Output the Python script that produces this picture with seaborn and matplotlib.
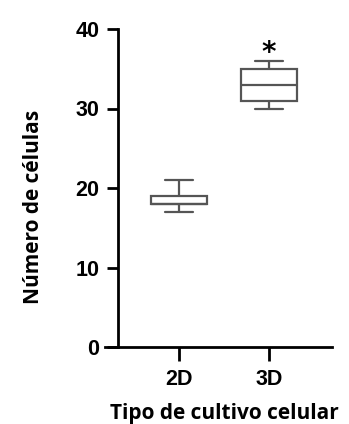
import matplotlib
matplotlib.use("Agg")
import matplotlib.pyplot as plt
import seaborn as sns
import pandas as pd

# Data (individual counts per group, read from box summary)
categories = ["2D", "3D"]
values_2d = [17, 18, 18, 18, 18, 19, 19, 21]
values_3d = [30, 31, 31, 33, 33, 35, 35, 36]
y_ticks = [0, 10, 20, 30, 40]
xlabel = "Tipo de cultivo celular"
ylabel = "Número de células"
sig_label = "*"

df = pd.DataFrame({
    "grupo": [categories[0]] * len(values_2d) + [categories[1]] * len(values_3d),
    "valor": values_2d + values_3d,
})

sns.set_style("ticks")
plt.rcParams["font.family"] = ["Liberation Sans", "DejaVu Sans"]
plt.rcParams["font.weight"] = "bold"

fig = plt.figure(figsize=(3.49, 4.24), dpi=100)
ax = fig.add_axes([105/349, 77/424, 227/349, 318/424])

sns.boxplot(data=df, x="grupo", y="valor", order=categories, ax=ax,
            color="white", linecolor="#555555", linewidth=1.6, width=0.62,
            whis=(0, 100), fill=True)

ax.set_xlim(-0.82, 1.7)
ax.set_ylim(0, 40)
ax.set_yticks(y_ticks)
ax.spines["top"].set_visible(False)
ax.spines["right"].set_visible(False)
ax.spines["left"].set_position(("data", -0.68))
for s in ["left", "bottom"]:
    ax.spines[s].set_linewidth(2.0)
    ax.spines[s].set_color("black")
ax.tick_params(axis="y", length=8, width=2.0, pad=5, colors="black",
               labelsize=15.5)
ax.tick_params(axis="x", length=10, width=2.0, pad=6, colors="black",
               labelsize=15.5)

ax.set_xlabel(xlabel, fontfamily="Open Sans", fontweight="bold", fontsize=15,
              color="black")
ax.set_ylabel(ylabel, fontfamily="Open Sans", fontweight="bold", fontsize=15,
              color="black")
ax.xaxis.set_label_coords(0.526, -0.208)
ax.xaxis.label.set_va("center")
ax.yaxis.set_label_coords(-0.317, 0.44)
ax.yaxis.label.set_va("center")

ax.text(1, 37.0, sig_label, ha="center", va="center", fontsize=20,
        fontweight="bold", fontfamily="DejaVu Sans", color="black")

fig.savefig("out.png", dpi=100)
